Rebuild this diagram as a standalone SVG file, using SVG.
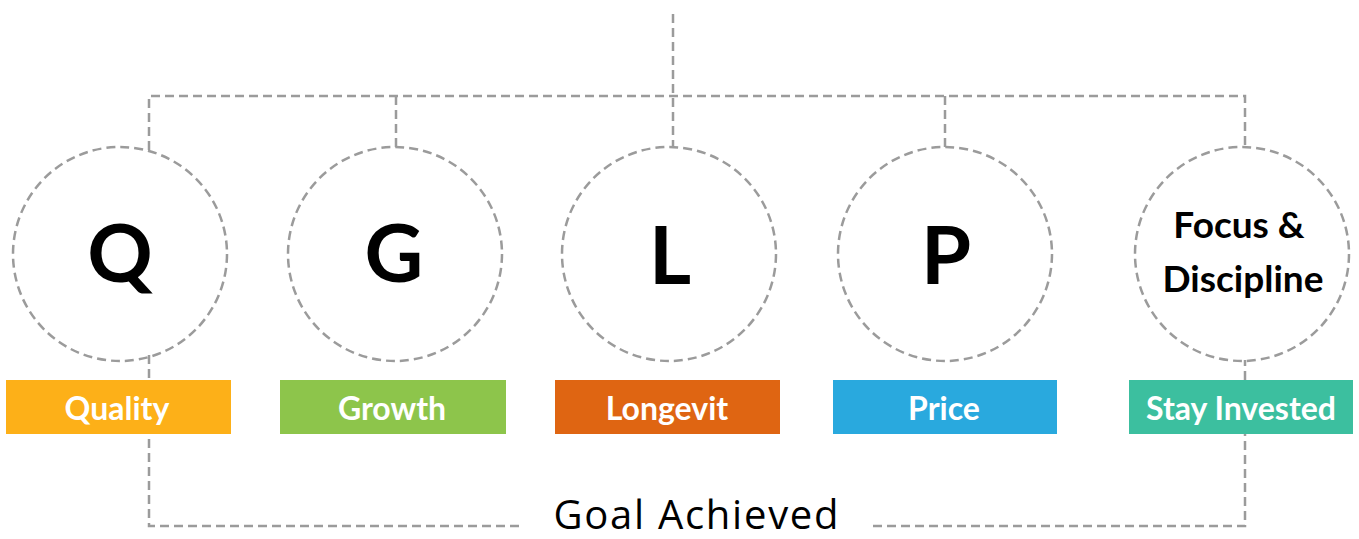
<svg xmlns="http://www.w3.org/2000/svg" width="1359" height="539" viewBox="0 0 1359 539">
<style>
.dash{fill:none;stroke:#9b9b9b;stroke-width:2.5;stroke-dasharray:9 5}
.big{font-family:Lato,"Open Sans",sans-serif;font-weight:700;font-size:81px;fill:#000;text-anchor:middle}
.two{font-family:Lato,"Open Sans",sans-serif;font-weight:700;font-size:37px;fill:#000;text-anchor:middle}
.lab{font-family:Lato,"Open Sans",sans-serif;font-weight:700;font-size:32px;fill:#fff;text-anchor:middle}
.goal{font-family:"Open Sans",sans-serif;font-weight:500;font-size:40px;fill:#000;text-anchor:middle}
</style>
<rect width="1359" height="539" fill="#fff"/>
<g id="connectors">
<path class="dash" d="M673 14V147"/>
<path class="dash" d="M149 150V96H1245V147"/>
<path class="dash" d="M396 96V147"/>
<path class="dash" d="M945 96V147"/>
<path class="dash" d="M149 355V526H524"/>
<path class="dash" d="M873 526H1245V360"/>
</g>
<g id="node-q">
<circle class="dash" cx="120" cy="254" r="107"/>
<text class="big" x="120" y="282">Q</text>
<rect x="6" y="380" width="225" height="54" fill="#fdb018"/>
<text class="lab" x="117" y="420">Quality</text>
</g>
<g id="node-g">
<circle class="dash" cx="395" cy="254" r="107"/>
<text class="big" x="394" y="282">G</text>
<rect x="280" y="380" width="226" height="54" fill="#8dc54b"/>
<text class="lab" x="392" y="420">Growth</text>
</g>
<g id="node-l">
<circle class="dash" cx="669" cy="254" r="107"/>
<text class="big" x="670" y="284">L</text>
<rect x="555" y="380" width="225" height="54" fill="#df6512"/>
<text class="lab" x="667" y="420">Longevit</text>
</g>
<g id="node-p">
<circle class="dash" cx="945" cy="254" r="107"/>
<text class="big" x="946" y="284">P</text>
<rect x="833" y="380" width="224" height="54" fill="#29a9de"/>
<text class="lab" x="944" y="420">Price</text>
</g>
<g id="node-fd">
<circle class="dash" cx="1242" cy="254" r="107"/>
<text class="two" x="1239" y="238">Focus &amp;</text>
<text class="two" x="1243" y="292">Discipline</text>
<rect x="1129" y="380" width="224" height="54" fill="#3cbf9f"/>
<text class="lab" x="1241" y="420">Stay Invested</text>
</g>
<g id="goal">
<text class="goal" x="696" y="529" textLength="285" lengthAdjust="spacing">Goal Achieved</text>
</g>
</svg>
